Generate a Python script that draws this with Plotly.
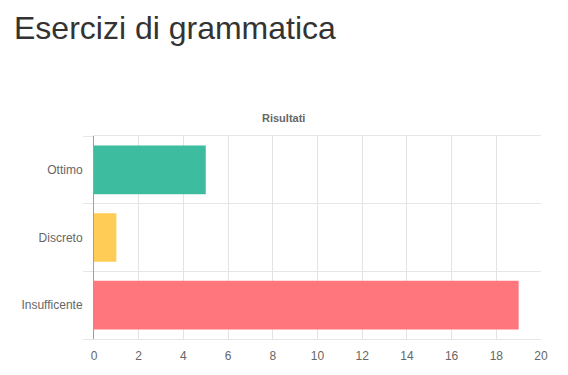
import plotly.graph_objects as go

categories = ["Ottimo", "Discreto", "Insufficente"]
values = [5, 1, 19]
colors = ["#3dbca0", "#ffcd56", "#ff767c"]
x_ticks = list(range(0, 21, 2))

# page body has an 8px margin; figure coordinates are offset accordingly
OFF = 8
W, H = 568, 375
L, T = 94 - OFF, 136 - OFF
R = W - (541 - OFF)
B = H - (339 - OFF)
pw, ph = W - L - R, H - T - B

def px_x(x):
    return (x - OFF - L) / pw

def px_y(y):
    return (H - B - (y - OFF)) / ph

fig = go.Figure(go.Bar(
    y=categories, x=values, orientation="h",
    marker=dict(color=colors, line=dict(width=0)),
    width=0.72, hoverinfo="x+y",
))

fig.update_layout(
    width=W, height=H,
    margin=dict(l=L, r=R, t=T, b=B, autoexpand=False),
    paper_bgcolor="white", plot_bgcolor="white",
    font=dict(family="Liberation Sans, Arial, sans-serif", size=12, color="#666"),
    showlegend=False,
    annotations=[
        dict(text="Esercizi di grammatica", xref="paper", yref="paper",
             x=px_x(12), y=px_y(8), showarrow=False, xanchor="left", yanchor="top",
             font=dict(size=32, color="#333", family="Liberation Sans, Arial, sans-serif")),
        dict(text="<b>Risultati</b>", xref="paper", yref="paper",
             x=px_x(283), y=px_y(118), showarrow=False, xanchor="center", yanchor="middle",
             font=dict(size=11, color="#666")),
    ],
)

fig.update_xaxes(
    range=[0, 20], tickvals=x_ticks, ticktext=[str(v) for v in x_ticks],
    showgrid=True, gridcolor="#e3e3e3", gridwidth=1,
    zeroline=False, showline=True, linecolor="#e6e6e6", linewidth=1, mirror=True,
    ticks="", ticklabelstandoff=6,
    tickfont=dict(size=12, color="#666"), fixedrange=True, automargin=False,
)
fig.update_yaxes(
    type="category", categoryorder="array", categoryarray=categories[::-1],
    tickson="boundaries", ticks="outside", ticklen=10, tickcolor="#e6e6e6",
    showgrid=True, gridcolor="#e6e6e6", gridwidth=1,
    showline=True, linecolor="#a0a0a0", linewidth=1,
    ticklabelstandoff=8,
    tickfont=dict(size=12, color="#666"), fixedrange=True, automargin=False,
)

fig.write_html("out.html")
